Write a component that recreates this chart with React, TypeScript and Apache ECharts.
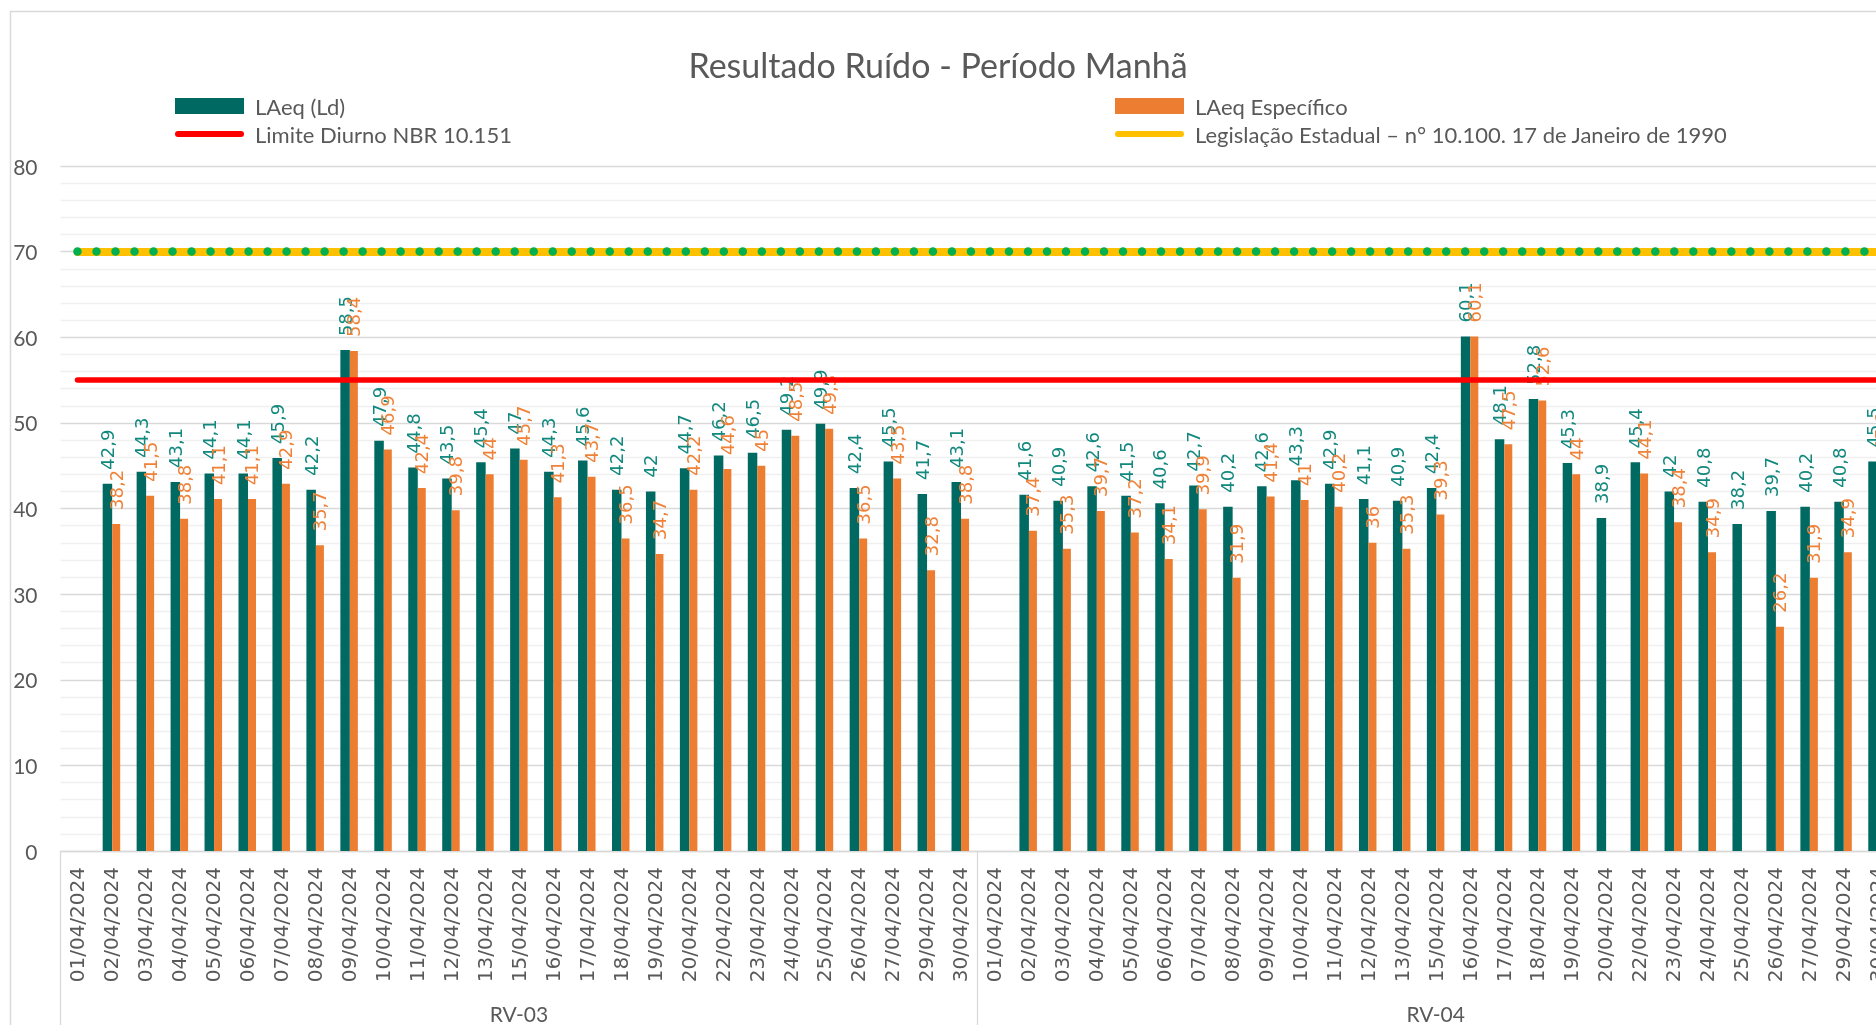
import React, { useEffect, useRef } from "react";
import * as echarts from "echarts";

const TITLE = "Resultado Ruído - Período Manhã";
const GROUPS = ["RV-03", "RV-04"];
const DATES = [
  "01/04/2024", "02/04/2024", "03/04/2024", "04/04/2024", "05/04/2024", "06/04/2024",
  "07/04/2024", "08/04/2024", "09/04/2024", "10/04/2024", "11/04/2024", "12/04/2024",
  "13/04/2024", "15/04/2024", "16/04/2024", "17/04/2024", "18/04/2024", "19/04/2024",
  "20/04/2024", "22/04/2024", "23/04/2024", "24/04/2024", "25/04/2024", "26/04/2024",
  "27/04/2024", "29/04/2024", "30/04/2024",
];

const RV03_LAEQ = [null, 42.9, 44.3, 43.1, 44.1, 44.1, 45.9, 42.2, 58.5, 47.9, 44.8, 43.5, 45.4, 47, 44.3, 45.6, 42.2, 42, 44.7, 46.2, 46.5, 49.2, 49.9, 42.4, 45.5, 41.7, 43.1];
const RV03_ESPECIFICO = [null, 38.2, 41.5, 38.8, 41.1, 41.1, 42.9, 35.7, 58.4, 46.9, 42.4, 39.8, 44, 45.7, 41.3, 43.7, 36.5, 34.7, 42.2, 44.6, 45, 48.5, 49.3, 36.5, 43.5, 32.8, 38.8];
const RV04_LAEQ = [null, 41.6, 40.9, 42.6, 41.5, 40.6, 42.7, 40.2, 42.6, 43.3, 42.9, 41.1, 40.9, 42.4, 60.1, 48.1, 52.8, 45.3, 38.9, 45.4, 42, 40.8, 38.2, 39.7, 40.2, 40.8, 45.5];
const RV04_ESPECIFICO = [null, 37.4, 35.3, 39.7, 37.2, 34.1, 39.9, 31.9, 41.4, 41, 40.2, 36, 35.3, 39.3, 60.1, 47.5, 52.6, 44, null, 44.1, 38.4, 34.9, null, 26.2, 31.9, 34.9, 45.1];

const LIMITE_DIURNO = 55;
const LEGISLACAO_ESTADUAL = 70;
const Y_MIN = 0;
const Y_MAX = 80;
const Y_STEP = 10;

const NAME_LAEQ = "LAeq (Ld)";
const NAME_ESP = "LAeq Específico";
const NAME_LIMITE = "Limite Diurno NBR 10.151";
const NAME_LEG = "Legislação Estadual – n° 10.100. 17 de Janeiro de 1990";

const TEAL = "#006A62";
const TEAL_LABEL = "#12887E";
const ORANGE = "#ED7D31";
const ORANGE_LABEL = "#EF8238";
const RED = "#FF0000";
const YELLOW = "#FFC000";
const GREEN = "#00B050";
const GREY_TEXT = "#595959";
const GRID_MAJOR = "#D9D9D9";
const GRID_MINOR = "#F0F0F0";

const CALIBRI = "Lato, 'Open Sans', sans-serif";
const DEJAVU = "'DejaVu Sans', sans-serif";

const CAPSULE = "path://M3,0 L66,0 A3,3 0 0 1 66,6 L3,6 A3,3 0 0 1 3,0 Z";

export default function App() {
  const ref = useRef<HTMLDivElement>(null);

  useEffect(() => {
    if (!ref.current) return;
    const chart = echarts.init(ref.current, undefined, { renderer: "svg" });

    const categories = GROUPS.flatMap((g) => DATES.map((d) => `${g}|${d}`));
    const laeq = [...RV03_LAEQ, ...RV04_LAEQ];
    const esp = [...RV03_ESPECIFICO, ...RV04_ESPECIFICO];
    const last = categories.length - 1;

    const fmt = (p: any) => String(p.value).replace(".", ",");
    const barLabel = (color: string) => ({
      show: true,
      position: "top",
      rotate: 90,
      align: "left",
      verticalAlign: "middle",
      distance: 14,
      fontFamily: DEJAVU,
      fontSize: 18,
      color,
      formatter: fmt,
    });

    const legendText = {
      fontFamily: CALIBRI,
      fontSize: 22,
      color: GREY_TEXT,
      padding: [0, 0, 0, 6],
    };
    const legendBase = {
      padding: 0,
      itemWidth: 69,
      selectedMode: false,
      textStyle: legendText,
    };

    const hLine = (value: number) => [
      [{ coord: [0, value] }, { coord: [last, value] }],
    ];

    chart.setOption({
      animation: false,
      title: {
        text: TITLE,
        left: "center",
        top: 42,
        textStyle: {
          fontFamily: CALIBRI,
          fontSize: 34,
          fontWeight: "normal",
          color: GREY_TEXT,
        },
      },
      graphic: [
        {
          type: "rect",
          silent: true,
          z: -10,
          shape: { x: 10.5, y: 11.5, width: 2000, height: 2000 },
          style: { fill: "none", stroke: GRID_MAJOR, lineWidth: 1.5 },
        },
      ],
      legend: [
        { ...legendBase, left: 175, top: 95, itemHeight: 16, data: [{ name: NAME_LAEQ, icon: "rect" }] },
        { ...legendBase, left: 175, top: 123, itemHeight: 6, data: [{ name: NAME_LIMITE, icon: CAPSULE }] },
        { ...legendBase, left: 1115, top: 95, itemHeight: 16, data: [{ name: NAME_ESP, icon: "rect" }] },
        { ...legendBase, left: 1115, top: 123, itemHeight: 6, data: [{ name: NAME_LEG, icon: CAPSULE }] },
      ],
      grid: {
        left: 60.5,
        top: 166,
        width: 1833.5,
        height: 685,
        containLabel: false,
        outerBoundsMode: "none",
      },
      xAxis: [
        {
          type: "category",
          data: categories,
          position: "bottom",
          axisLine: { show: true, lineStyle: { color: GRID_MAJOR, width: 1.3 } },
          axisTick: { show: false },
          splitLine: { show: false },
          axisLabel: {
            interval: 0,
            rotate: 90,
            margin: 16,
            fontFamily: DEJAVU,
            fontSize: 20,
            color: GREY_TEXT,
            formatter: (v: string) => v.split("|")[1],
          },
        },
        {
          type: "category",
          data: GROUPS,
          position: "bottom",
          axisLine: { show: false },
          axisTick: {
            show: true,
            interval: 0,
            length: 220,
            lineStyle: { color: GRID_MAJOR, width: 1.3 },
          },
          splitLine: { show: false },
          axisLabel: {
            interval: 0,
            margin: 152,
            fontFamily: CALIBRI,
            fontSize: 21,
            color: GREY_TEXT,
          },
        },
      ],
      yAxis: {
        type: "value",
        min: Y_MIN,
        max: Y_MAX,
        interval: Y_STEP,
        axisLine: { show: false },
        axisTick: { show: false },
        axisLabel: {
          margin: 23,
          fontFamily: CALIBRI,
          fontSize: 21,
          color: GREY_TEXT,
        },
        splitLine: { show: true, lineStyle: { color: GRID_MAJOR, width: 1.3 } },
        minorTick: { show: false, splitNumber: 5 },
        minorSplitLine: { show: true, lineStyle: { color: GRID_MINOR, width: 1.3 } },
      },
      series: [
        {
          name: NAME_LAEQ,
          type: "bar",
          data: laeq,
          barWidth: 9.5,
          barGap: "0%",
          itemStyle: { color: TEAL },
          label: barLabel(TEAL_LABEL),
          z: 2,
        },
        {
          name: NAME_ESP,
          type: "bar",
          data: esp,
          barWidth: 8,
          barGap: "0%",
          itemStyle: { color: ORANGE },
          label: barLabel(ORANGE_LABEL),
          z: 2,
        },
        {
          name: NAME_LIMITE,
          type: "line",
          data: [],
          color: RED,
          itemStyle: { color: RED },
          z: 5,
          markLine: {
            silent: true,
            symbol: "none",
            label: { show: false },
            lineStyle: { color: RED, width: 5.5, type: "solid", cap: "round" },
            data: hLine(LIMITE_DIURNO),
          },
        },
        {
          name: NAME_LEG,
          type: "line",
          data: [],
          color: YELLOW,
          itemStyle: { color: YELLOW },
          z: 5,
          markLine: {
            silent: true,
            symbol: "none",
            label: { show: false },
            lineStyle: { color: YELLOW, width: 8, type: "solid", cap: "round" },
            data: hLine(LEGISLACAO_ESTADUAL),
          },
        },
        {
          name: "Legislação Estadual (pontos)",
          type: "line",
          data: [],
          color: GREEN,
          z: 6,
          markLine: {
            silent: true,
            symbol: "none",
            label: { show: false },
            lineStyle: { color: GREEN, width: 8.5, type: [0.01, 19], cap: "round" },
            data: hLine(LEGISLACAO_ESTADUAL),
          },
        },
      ],
    });

    return () => chart.dispose();
  }, []);

  return (
    <div
      ref={ref}
      style={{ position: "fixed", left: 0, top: 0, width: 1876, height: 1025 }}
    />
  );
}
